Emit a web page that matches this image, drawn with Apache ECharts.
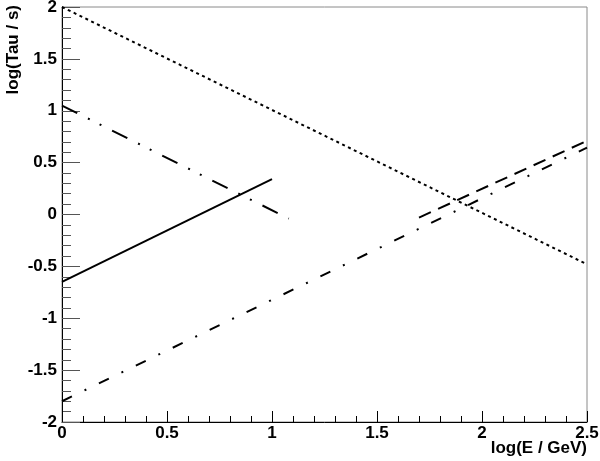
<!DOCTYPE html>
<html>
<head>
<meta charset="utf-8">
<script src="https://cdn.jsdelivr.net/npm/echarts@6/dist/echarts.min.js"></script>
<style>
    html, body { margin: 0; padding: 0; background: #fff; }
    #chart { width: 600px; height: 461px; }
</style>
</head>
<body>
<div id="chart"></div>
<script>
// endpoints of each curve
const dottedX = [0, 2.5];
const dottedY = [2.0, -0.48];
const longDashX = [0, 1.08];
const longDashY = [1.05, -0.04];
const solidX = [0, 1.0];
const solidY = [-0.65, 0.34];
const dashedX = [1.7, 2.5];
const dashedY = [-0.03, 0.71];
const dashDotX = [0, 2.5];
const dashDotY = [-1.8, 0.645];

const xTitle = 'log(E / GeV)';
const yTitle = 'log(Tau / s)';

function pairs(xs, ys) {
    return xs.map((x, i) => [x, ys[i]]);
}

document.addEventListener('DOMContentLoaded', function () {
    const chartDom = document.getElementById('chart');
    const myChart = echarts.init(chartDom);
    const font = 'Liberation Sans, Arial, Helvetica, sans-serif';

    function line(name, data, type) {
        return {
            name: name,
            type: 'line',
            data: data,
            symbol: 'none',
            silent: true,
            lineStyle: { color: '#000', width: 2, type: type, cap: 'butt' }
        };
    }

    const option = {
        animation: false,
        backgroundColor: '#fff',
        grid: {
            left: 62,
            right: 13,
            top: 7,
            bottom: 39,
            containLabel: false,
            outerBoundsMode: 'none',
            show: true,
            borderColor: '#8a8a8a',
            borderWidth: 1,
            backgroundColor: 'transparent'
        },
        // x title sits under the right end of the axis, right-aligned
        graphic: [{
            type: 'text',
            right: 13,
            bottom: 4,
            style: {
                text: xTitle,
                fontFamily: font,
                fontWeight: 'bold',
                fontSize: 17,
                fill: '#000'
            }
        }],
        xAxis: {
            type: 'value',
            min: 0,
            max: 2.5,
            interval: 0.5,
            axisLine: { onZero: false, lineStyle: { color: '#000', width: 1 } },
            axisTick: { inside: true, length: 11, lineStyle: { color: '#000' } },
            minorTick: { show: true, splitNumber: 5, length: 6, lineStyle: { color: '#000' } },
            splitLine: { show: false },
            axisLabel: {
                fontFamily: font,
                fontWeight: 'bold',
                fontSize: 17,
                color: '#000',
                margin: 3
            }
        },
        yAxis: {
            type: 'value',
            min: -2,
            max: 2,
            interval: 0.5,
            name: yTitle,
            nameLocation: 'end',
            nameRotate: 90,
            nameGap: 2,
            nameTextStyle: {
                fontFamily: font,
                fontWeight: 'bold',
                fontSize: 17,
                color: '#000',
                align: 'right',
                verticalAlign: 'bottom',
                padding: [0, 0, 40, 0]
            },
            axisLine: { onZero: false, lineStyle: { color: '#000', width: 1 } },
            axisTick: { inside: true, length: 18, lineStyle: { color: '#555' } },
            minorTick: { show: true, splitNumber: 5, length: 9, lineStyle: { color: '#555' } },
            splitLine: { show: false },
            axisLabel: {
                fontFamily: font,
                fontWeight: 'bold',
                fontSize: 17,
                color: '#000',
                margin: 5
            }
        },
        series: [
            line('dotted', pairs(dottedX, dottedY), [3, 3.5]),
            line('longDash', pairs(longDashX, longDashY), [17, 12, 2, 11, 2, 12]),
            line('solid', pairs(solidX, solidY), 'solid'),
            line('dashed', pairs(dashedX, dashedY), [13, 8]),
            line('dashDot', pairs(dashDotX, dashDotY), [11, 14, 2, 14])
        ]
    };

    myChart.setOption(option);
});
</script>
</body>
</html>
